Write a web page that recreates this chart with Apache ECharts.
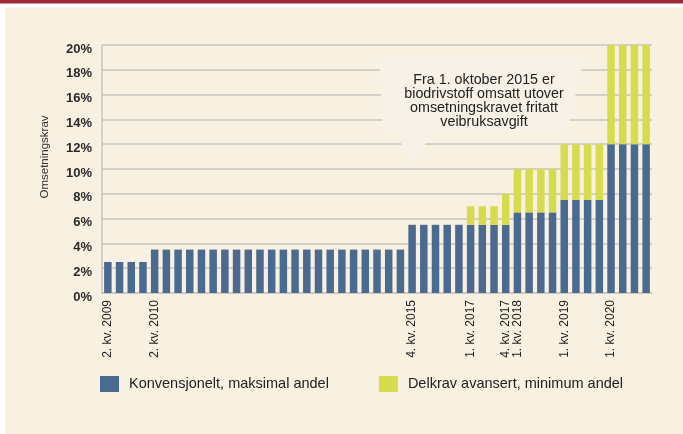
<!DOCTYPE html>
<html>
<head>
<meta charset="utf-8">
<script src="https://cdn.jsdelivr.net/npm/echarts@6/dist/echarts.min.js"></script>
<style>
  html, body { margin: 0; padding: 0; background: #fff; }
  #chart { width: 683px; height: 434px; }
</style>
</head>
<body>
<div id="chart"></div>
<script>
// kvartaler, 2. kv. 2009 - 4. kv. 2020
var quarters = [
  '2. kv. 2009', '3. kv. 2009', '4. kv. 2009',
  '1. kv. 2010', '2. kv. 2010', '3. kv. 2010', '4. kv. 2010',
  '1. kv. 2011', '2. kv. 2011', '3. kv. 2011', '4. kv. 2011',
  '1. kv. 2012', '2. kv. 2012', '3. kv. 2012', '4. kv. 2012',
  '1. kv. 2013', '2. kv. 2013', '3. kv. 2013', '4. kv. 2013',
  '1. kv. 2014', '2. kv. 2014', '3. kv. 2014', '4. kv. 2014',
  '1. kv. 2015', '2. kv. 2015', '3. kv. 2015', '4. kv. 2015',
  '1. kv. 2016', '2. kv. 2016', '3. kv. 2016', '4. kv. 2016',
  '1. kv. 2017', '2. kv. 2017', '3. kv. 2017', '4. kv. 2017',
  '1. kv. 2018', '2. kv. 2018', '3. kv. 2018', '4. kv. 2018',
  '1. kv. 2019', '2. kv. 2019', '3. kv. 2019', '4. kv. 2019',
  '1. kv. 2020', '2. kv. 2020', '3. kv. 2020', '4. kv. 2020'
]
// bare disse vises på aksen
var shownLabels = ['2. kv. 2009', '2. kv. 2010', '4. kv. 2015', '1. kv. 2017', '4. kv. 2017', '1. kv. 2018', '1. kv. 2019', '1. kv. 2020']

// konvensjonelt (prosent)
var konvensjonelt = [
  2.5, 2.5, 2.5,
  2.5, 3.5, 3.5, 3.5,
  3.5, 3.5, 3.5, 3.5,
  3.5, 3.5, 3.5, 3.5,
  3.5, 3.5, 3.5, 3.5,
  3.5, 3.5, 3.5, 3.5,
  3.5, 3.5, 3.5, 5.5,
  5.5, 5.5, 5.5, 5.5,
  5.5, 5.5, 5.5, 5.5,
  6.5, 6.5, 6.5, 6.5,
  7.5, 7.5, 7.5, 7.5,
  12, 12, 12, 12
]
// delkrav avansert (prosent, stables oppå)
var avansert = [
  0, 0, 0,
  0, 0, 0, 0,
  0, 0, 0, 0,
  0, 0, 0, 0,
  0, 0, 0, 0,
  0, 0, 0, 0,
  0, 0, 0, 0,
  0, 0, 0, 0,
  1.5, 1.5, 1.5, 2.5,
  3.5, 3.5, 3.5, 3.5,
  4.5, 4.5, 4.5, 4.5,
  8, 8, 8, 8
]
var seriesNames = ['Konvensjonelt, maksimal andel', 'Delkrav avansert, minimum andel']
var yTicks = { min: 0, max: 20, interval: 2 }
var noteLines = ['Fra 1. oktober 2015 er', 'biodrivstoff omsatt utover', 'omsetningskravet fritatt', 'veibruksavgift']

var font = 'Liberation Sans, Arial, sans-serif'
var bg = '#f8f0e1'
var gridColor = '#c9c6be'

var chart = echarts.init(document.getElementById('chart'), null, { renderer: 'canvas' })

chart.setOption({
  backgroundColor: bg,
  animation: false,
  textStyle: { fontFamily: font },
  grid: { left: 102, right: 31, top: 45, bottom: 141 },
  legend: {
    left: 100,
    top: 376,
    padding: 0,
    itemWidth: 19,
    itemHeight: 16,
    itemGap: 50,
    icon: 'rect',
    data: seriesNames,
    textStyle: { fontSize: 14.5, color: '#222', fontFamily: font, padding: [0, 0, 0, 5] }
  },
  xAxis: {
    type: 'category',
    data: quarters,
    axisLine: { show: true, lineStyle: { color: gridColor, width: 1.5 } },
    axisTick: { show: false },
    axisLabel: {
      rotate: 90,
      margin: 7,
      fontSize: 12,
      color: '#222',
      interval: function (index, value) {
        return shownLabels.indexOf(value) !== -1
      }
    }
  },
  yAxis: {
    type: 'value',
    min: yTicks.min,
    max: yTicks.max,
    interval: yTicks.interval,
    axisLine: { show: true, lineStyle: { color: gridColor, width: 1.5 } },
    axisTick: { show: false },
    splitLine: { lineStyle: { color: gridColor, width: 1.5 } },
    axisLabel: {
      margin: 10,
      fontSize: 13,
      fontWeight: 'bold',
      color: '#2a2a2a',
      verticalAlign: 'top',
      lineHeight: 8,
      formatter: '{value}%'
    }
  },
  series: [
    {
      name: seriesNames[0],
      type: 'bar',
      stack: 'krav',
      data: konvensjonelt,
      barCategoryGap: '36%',
      itemStyle: { color: '#4a6a8f' }
    },
    {
      name: seriesNames[1],
      type: 'bar',
      stack: 'krav',
      data: avansert,
      barCategoryGap: '36%',
      itemStyle: { color: '#d6dc4e' }
    }
  ],
  graphic: [
    // rød stripe øverst + hvit kant
    { type: 'rect', shape: { x: 0, y: 0, width: 683, height: 7.5 }, style: { fill: '#ffffff' }, z: 100 },
    { type: 'rect', shape: { x: 0, y: 0, width: 683, height: 3.5 }, style: { fill: '#9e2a36' }, z: 101 },
    { type: 'rect', shape: { x: 0, y: 0, width: 5, height: 434 }, style: { fill: '#ffffff' }, z: 100 },
    // y-aksetittel
    {
      type: 'text',
      x: 45,
      y: 157,
      rotation: Math.PI / 2,
      style: { text: 'Omsetningskrav', font: '11.5px ' + font, fill: '#333', textAlign: 'center', textVerticalAlign: 'middle' },
      z: 100
    },
    // merknadsboble
    {
      type: 'polygon',
      shape: { points: [[379, 58], [584, 58], [567, 132], [432, 132], [413, 166], [395, 132], [383, 132]] },
      style: { fill: '#f7f1e7' },
      z: 50
    },
    {
      type: 'text',
      x: 484,
      y: 72.5,
      style: { text: noteLines.join('\n'), font: '14.3px ' + font, fill: '#222', textAlign: 'center', lineHeight: 14.3 },
      z: 51
    }
  ]
})
</script>
</body>
</html>
